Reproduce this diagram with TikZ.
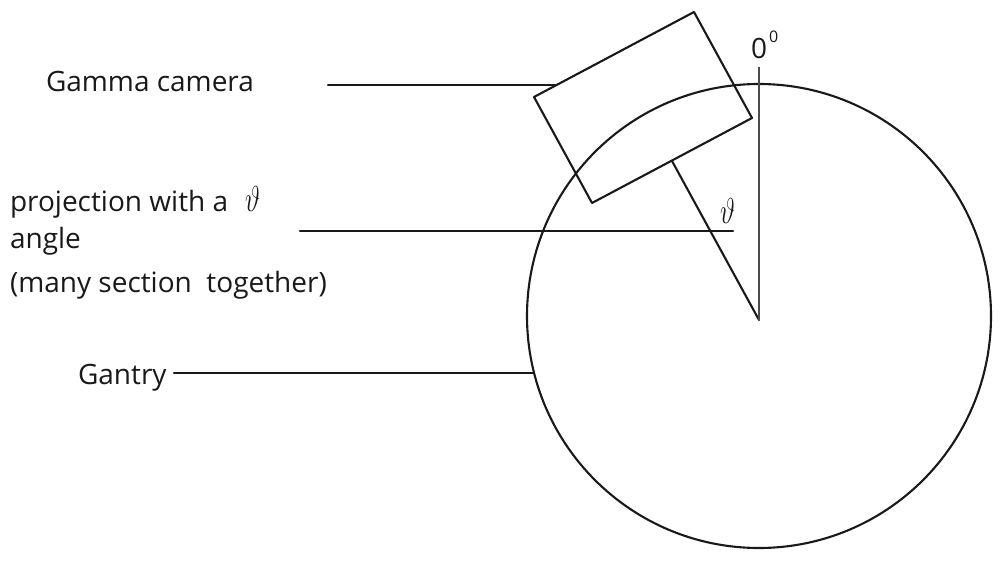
\documentclass[tikz,border=0pt]{standalone}
\usepackage{fontspec}
\setmainfont{Open Sans}
\begin{document}
\begin{tikzpicture}[x=1pt,y=-1pt,
  ink/.style={draw=black!90,line width=2.1pt,line cap=round,line join=round},
  lbl/.style={anchor=base west,inner sep=0pt,outer sep=0pt,font=\fontsize{28}{30}\selectfont,text=black!90},
  thetalbl/.style={lbl,xscale=1.05,yscale=1.45}]
\useasboundingbox (0,0) rectangle (1001,561);
\node[circle,draw=black!90,line width=2.1pt,minimum size=464pt,inner sep=0pt,outer sep=0pt] (gantry) at (759,316) {};
\coordinate (ct) at (694,12);
\coordinate (cl) at (534,97);
\coordinate (cb) at (592,203);
\coordinate (cr) at (752,118);
\draw[ink] (ct) -- (cl) -- (cb) -- (cr) -- cycle;
\coordinate (centre) at (759,320);
\coordinate (foot) at (672,161);
\coordinate (zerotop) at (759,67);
\draw[ink] (foot) -- (centre);
\draw[draw=black!70,line width=2.4pt] (zerotop) -- (centre);
\node[lbl] (gamma) at (46,92) {Gamma camera};
\coordinate (gammaS) at (328,85);
\coordinate (gammaE) at (556,85);
\draw[ink] (gammaS) -- (gammaE);
\node[lbl] (proj1) at (10,212) {projection with a};
\node[thetalbl] (projth) at (245,212) {$\vartheta$};
\node[lbl] (proj2) at (10,249) {angle};
\node[lbl] (proj3) at (10,293) {(many section\ \ together)};
\coordinate (projS) at (300,231);
\coordinate (projE) at (733,231);
\draw[ink] (projS) -- (projE);
\node[lbl] (gname) at (78,384) {Gantry};
\coordinate (gS) at (174,373);
\coordinate (gE) at (534,373);
\draw[ink] (gS) -- (gE);
\node[thetalbl] (theta) at (720,224) {$\vartheta$};
\node[lbl] (zero) at (751,59) {0};
\node[lbl,font=\fontsize{16}{18}\selectfont] (deg) at (769,43) {0};
\end{tikzpicture}
\end{document}
